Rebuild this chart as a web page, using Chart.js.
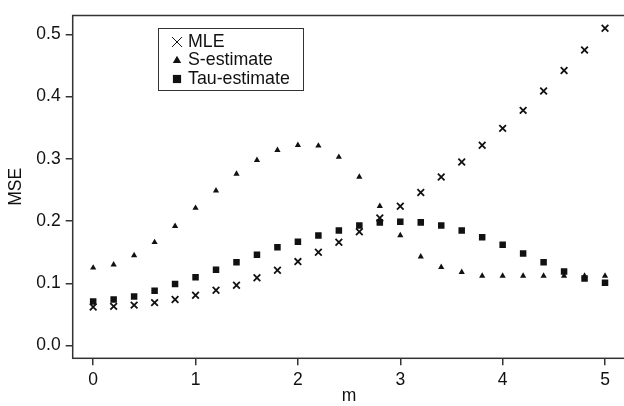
<!DOCTYPE html>
<html>
<head>
<meta charset="utf-8">
<script src="https://cdn.jsdelivr.net/npm/chart.js@4"></script>
<style>
  html, body { margin: 0; padding: 0; overflow: hidden; background: #fff; }
  #wrap { width: 632px; height: 406px; }
</style>
</head>
<body>
<div id="wrap"><canvas id="myChart" width="632" height="406"></canvas></div>
<script>
// m values on the x axis
var mValues = [0, 0.2, 0.4, 0.6, 0.8, 1.0, 1.2, 1.4, 1.6, 1.8, 2.0, 2.2, 2.4,
               2.6, 2.8, 3.0, 3.2, 3.4, 3.6, 3.8, 4.0, 4.2, 4.4, 4.6, 4.8, 5.0];
var mleMse = [0.062, 0.063, 0.065, 0.069, 0.074, 0.081, 0.089, 0.097, 0.109, 0.121,
              0.135, 0.150, 0.166, 0.183, 0.205, 0.224, 0.246, 0.271, 0.295, 0.322,
              0.349, 0.378, 0.409, 0.442, 0.475, 0.510];
var sMse = [0.125, 0.130, 0.145, 0.166, 0.192, 0.221, 0.249, 0.276, 0.298, 0.314,
            0.322, 0.321, 0.303, 0.271, 0.224, 0.177, 0.143, 0.126, 0.118, 0.112,
            0.112, 0.112, 0.112, 0.112, 0.112, 0.112];
var tauMse = [0.071, 0.074, 0.079, 0.088, 0.099, 0.110, 0.122, 0.134, 0.146, 0.158,
              0.167, 0.177, 0.185, 0.193, 0.198, 0.199, 0.198, 0.193, 0.185, 0.174,
              0.162, 0.148, 0.134, 0.119, 0.108, 0.101];
var xTicks = [0, 1, 2, 3, 4, 5];
var yTicks = [0, 0.1, 0.2, 0.3, 0.4, 0.5];
var seriesNames = ['MLE', 'S-estimate', 'Tau-estimate'];

function pts(ys) {
    return mValues.map(function (m, i) { return {x: m, y: ys[i]}; });
}

var ink = '#111';
var axisInk = '#333';
var font = {family: '"Liberation Sans", Arial, sans-serif', size: 17.5};

// box round the plot and the legend inside it
var frame = {
    id: 'frame',
    beforeDatasetsDraw: function (chart) {
        var ctx = chart.ctx, a = chart.chartArea;
        ctx.save();
        ctx.strokeStyle = axisInk;
        ctx.lineWidth = 1.5;
        ctx.strokeRect(a.left, a.top, a.right - a.left, a.bottom - a.top);
        ctx.restore();
    },
    afterDraw: function (chart) {
        var ctx = chart.ctx;
        ctx.save();
        ctx.strokeStyle = axisInk;
        ctx.lineWidth = 1;
        ctx.strokeRect(158.5, 28.5, 145, 62);
        var styles = [
            {pointStyle: 'crossRot', radius: 7, borderWidth: 1},
            {pointStyle: 'triangle', radius: 4.8, borderWidth: 0},
            {pointStyle: 'rect', radius: 5.8, borderWidth: 0}
        ];
        ctx.font = '17.8px "Liberation Sans", Arial, sans-serif';
        ctx.textBaseline = 'middle';
        ctx.textAlign = 'left';
        var ys = [42, 60.5, 79];
        for (var i = 0; i < 3; i++) {
            ctx.fillStyle = ink;
            ctx.strokeStyle = ink;
            ctx.lineWidth = styles[i].borderWidth || 1;
            Chart.helpers.drawPoint(ctx, styles[i], 177, ys[i]);
            ctx.fillStyle = ink;
            ctx.fillText(seriesNames[i], 188, ys[i]);
        }
        ctx.restore();
    }
};

var ctx = document.getElementById('myChart').getContext('2d');
var myChart = new Chart(ctx, {
    type: 'scatter',
    data: {
        datasets: [{
            label: seriesNames[0],
            data: pts(mleMse),
            pointStyle: 'crossRot',
            pointRadius: 4.7,
            borderWidth: 1.8,
            borderColor: ink,
            backgroundColor: ink
        }, {
            label: seriesNames[1],
            data: pts(sMse),
            pointStyle: 'triangle',
            pointRadius: 3.6,
            borderWidth: 0,
            borderColor: ink,
            backgroundColor: ink
        }, {
            label: seriesNames[2],
            data: pts(tauMse),
            pointStyle: 'rect',
            pointRadius: 4.6,
            borderWidth: 0,
            borderColor: ink,
            backgroundColor: ink
        }]
    },
    options: {
        responsive: false,
        animation: false,
        events: [],
        layout: {padding: {top: 7.5, right: 1.5, left: 0, bottom: 1}},
        plugins: {
            legend: {display: false},
            tooltip: {enabled: false}
        },
        scales: {
            x: {
                type: 'linear',
                min: -0.2,
                max: 5.2,
                afterBuildTicks: function (s) { s.ticks = xTicks.map(function (v) { return {value: v}; }); },
                afterFit: function (s) { s.height = 46.7; },
                grid: {drawOnChartArea: false, color: axisInk, lineWidth: 1.5, tickLength: 7},
                border: {display: false},
                ticks: {color: ink, font: font, padding: 4, maxRotation: 0,
                        callback: function (v) { return String(v); }},
                title: {display: true, text: 'm', color: ink, font: font, padding: {top: 0, bottom: -2}}
            },
            y: {
                type: 'linear',
                min: -0.0204,
                max: 0.5304,
                afterBuildTicks: function (s) { s.ticks = yTicks.map(function (v) { return {value: v}; }); },
                afterFit: function (s) { s.width = 72.7; },
                grid: {drawOnChartArea: false, color: axisInk, lineWidth: 1.5, tickLength: 7},
                border: {display: false},
                ticks: {color: ink, font: font, padding: 5,
                        callback: function (v) { return Number(v).toFixed(1); }},
                title: {display: true, text: 'MSE', color: ink, font: font, padding: {top: 6, bottom: 0}}
            }
        }
    },
    plugins: [frame]
});
</script>
</body>
</html>
